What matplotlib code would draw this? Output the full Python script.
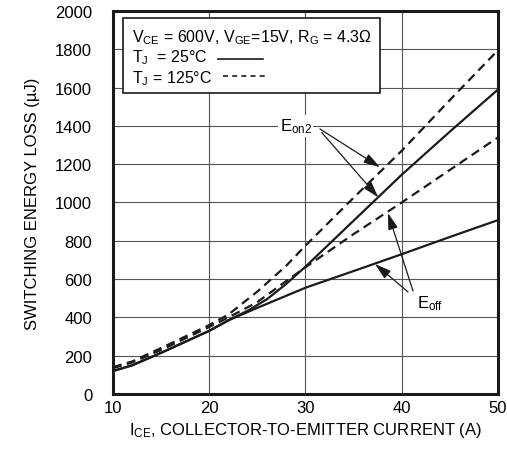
import matplotlib
matplotlib.use("Agg")
import matplotlib.pyplot as plt
from matplotlib.patches import Rectangle

plt.rcParams['font.family'] = ['Liberation Sans', 'DejaVu Sans']
plt.rcParams['mathtext.default'] = 'regular'

# curves (uJ vs A)
eon2_25_x = [10, 12, 15, 20, 22, 24, 26, 28, 30, 35, 40, 45, 50]
eon2_25_y = [120, 150, 215, 330, 385, 435, 495, 575, 665, 905, 1145, 1370, 1590]
eon2_125_x = [10, 12, 15, 20, 22, 25, 28, 30, 35, 40, 45, 50]
eon2_125_y = [140, 170, 240, 360, 415, 535, 670, 775, 1025, 1270, 1535, 1795]
eoff_25_x = [10, 12, 15, 20, 22, 25, 30, 35, 40, 45, 50]
eoff_25_y = [120, 150, 215, 330, 385, 450, 555, 642, 730, 820, 908]
eoff_125_x = [10, 12, 15, 20, 22, 25, 28, 30, 35, 40, 45, 50]
eoff_125_y = [135, 165, 230, 350, 400, 480, 590, 662, 835, 1000, 1170, 1340]

xticks = [10, 20, 30, 40, 50]
yticks = list(range(0, 2001, 200))

fig = plt.figure(figsize=(5.07, 4.52), dpi=100)
ax = fig.add_axes([0.2229, 0.1261, 0.7593, 0.8474])

dash = (0, (4, 2.5))
ax.plot(eon2_25_x, eon2_25_y, color='#1a1a1a', lw=1.6)
ax.plot(eoff_25_x, eoff_25_y, color='#1a1a1a', lw=1.6)
ax.plot(eon2_125_x, eon2_125_y, color='#1a1a1a', lw=1.6, linestyle=dash)
ax.plot(eoff_125_x, eoff_125_y, color='#1a1a1a', lw=1.6, linestyle=dash)

ax.set_xlim(10, 50)
ax.set_ylim(0, 2000)
ax.set_xticks(xticks)
ax.set_yticks(yticks)
ax.tick_params(length=0, labelsize=12)
ax.tick_params(axis='y', pad=15)
ax.tick_params(axis='x', pad=4)
ax.grid(True, color='#555555', lw=0.8)
ax.set_axisbelow(True)
for s in ax.spines.values():
    s.set_linewidth(2.2)
    s.set_color('#1a1a1a')

ax.set_xlabel('$I_{CE}$, COLLECTOR-TO-EMITTER CURRENT (A)', fontsize=12, labelpad=4)
ax.set_ylabel('SWITCHING ENERGY LOSS (µJ)', fontsize=12, labelpad=11)

# condition box
box = Rectangle((0.026, 0.786), 0.6675, 0.1957, transform=ax.transAxes,
                facecolor='white', edgecolor='#1a1a1a', lw=1.2, zorder=5)
ax.add_patch(box)
ax.text(0.0494, 0.9217, '$V_{CE}$ = 600V, $V_{GE}$=15V, $R_G$ = 4.3Ω',
        transform=ax.transAxes, fontsize=11.5, va='baseline', zorder=6)
ax.text(0.0494, 0.8695, '$T_J$  = 25°C', transform=ax.transAxes,
        fontsize=11.5, va='baseline', zorder=6)
ax.text(0.0494, 0.8146, '$T_J$ = 125°C', transform=ax.transAxes,
        fontsize=11.5, va='baseline', zorder=6)
ax.plot([0.2727, 0.3896], [0.8747, 0.8747], transform=ax.transAxes,
        color='#1a1a1a', lw=1.2, zorder=6)
ax.plot([0.2857, 0.4026], [0.8303, 0.8303], transform=ax.transAxes,
        color='#1a1a1a', lw=1.2, linestyle=(0, (3, 2.5)), zorder=6)

# annotations
arr = dict(arrowstyle='-|>,head_length=1.0,head_width=0.3', color='#1a1a1a',
           lw=0.9, shrinkA=0, shrinkB=0)
ax.text(29.0, 1400, '$E_{on2}$', fontsize=12, ha='center', va='center',
        bbox=dict(facecolor='white', edgecolor='none', pad=1))
ax.annotate('', xy=(37.74, 1184), xytext=(31.5, 1384), arrowprops=arr)
ax.annotate('', xy=(37.56, 1027), xytext=(31.68, 1366), arrowprops=arr)

ax.text(43.0, 475, '$E_{off}$', fontsize=12, ha='center', va='center',
        bbox=dict(facecolor='white', edgecolor='none', pad=1))
ax.annotate('', xy=(38.57, 945), xytext=(41.17, 538), arrowprops=arr)
ax.annotate('', xy=(37.22, 679), xytext=(40.65, 533), arrowprops=arr)

fig.savefig('out.png', dpi=100)
